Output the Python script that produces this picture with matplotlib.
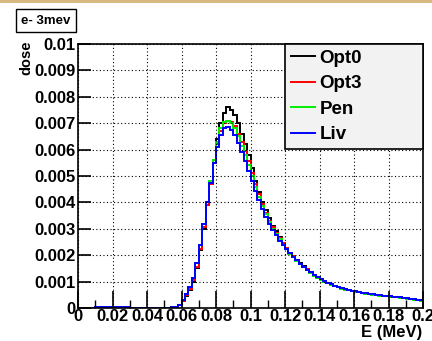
import numpy as np
import matplotlib
matplotlib.use("Agg")
import matplotlib.pyplot as plt
from matplotlib.patches import Rectangle

plt.rcParams['font.family'] = ['Liberation Sans', 'DejaVu Sans']
plt.rcParams['font.weight'] = 'bold'

# Histogram: 100 bins from 0 to 0.2 MeV, values in units of 1e-4
e_min, e_max, n_bins = 0.0, 0.2, 100
scale = 1e-4

opt0 = [0, 0, 0, 0, 0,
        0.2, 0.3, 0.2, 0.4, 0.2, 0.3, 0.2, 0.3, 0.2, 0.2,
        0.1, 0.1, 0.1, 0.1, 0.1, 0.1, 0.1, 0.1, 0.1, 0.1, 0.1, 0.1, 0.2,
        0.3, 1.0, 2.5, 4.5, 7, 10, 15, 22, 30, 39, 47, 56,
        64, 70, 74, 76, 75, 73, 70, 66, 62, 58,
        53, 48, 44, 40, 37, 34, 31, 29, 27, 24.5,
        22.5, 21, 19.5, 18.3, 17, 15.8, 14.6, 13.5, 12.6, 11.8,
        11.0, 10.3, 9.6, 9.0, 8.5, 8.0, 7.6, 7.2, 6.9, 6.6,
        6.3, 6.0, 5.8, 5.6, 5.4, 5.2, 5.0, 4.9, 4.7, 4.6,
        4.4, 4.3, 4.2, 4.0, 3.9, 3.7, 3.5, 3.3, 3.1, 2.9]

opt3 = [0, 0, 0, 0, 0,
        0.3, 0.2, 0.4, 0.2, 0.3, 0.2, 0.4, 0.3, 0.2, 0.3,
        0.1, 0.1, 0.1, 0.1, 0.1, 0.1, 0.1, 0.1, 0.1, 0.1, 0.1, 0.1, 0.2,
        0.3, 1.1, 2.7, 4.8, 7.3, 10.5, 15.5, 22.5, 30.5, 39, 47, 55,
        62, 67, 70, 71, 70.5, 69, 66, 63, 59.5, 55.5,
        51, 47, 43, 39.5, 36, 33, 30.5, 28.5, 26.5, 24.5,
        22.8, 21, 19.8, 18.2, 16.8, 15.6, 14.6, 13.4, 12.4, 11.5,
        10.8, 10.1, 9.5, 8.9, 8.3, 7.9, 7.5, 7.1, 6.8, 6.5,
        6.2, 6.0, 5.7, 5.5, 5.3, 5.1, 5.0, 4.8, 4.7, 4.5,
        4.4, 4.2, 4.1, 4.0, 3.8, 3.6, 3.4, 3.2, 3.0, 2.8]

pen = [0, 0, 0, 0, 0,
       0.2, 0.3, 0.3, 0.2, 0.4, 0.3, 0.2, 0.4, 0.3, 0.2,
       0.1, 0.1, 0.1, 0.1, 0.1, 0.1, 0.1, 0.1, 0.1, 0.1, 0.1, 0.1, 0.2,
       0.4, 1.3, 3.0, 5.2, 8, 11.5, 17, 24, 32, 40, 48, 56,
       63, 68, 70.5, 71, 70, 68, 65, 61.5, 58, 54,
       50, 46, 42, 38.5, 35.5, 32.5, 30, 28, 26, 24,
       22.2, 20.6, 19.2, 17.9, 16.6, 15.4, 14.3, 13.2, 12.3, 11.4,
       10.7, 10.0, 9.3, 8.8, 8.2, 7.8, 7.3, 7.0, 6.7, 6.4,
       6.1, 5.9, 5.6, 5.4, 5.2, 5.0, 4.9, 4.7, 4.5, 4.4,
       4.3, 4.1, 4.0, 3.9, 3.7, 3.5, 3.3, 3.1, 2.9, 2.7]

liv = [0, 0, 0, 0, 0,
       0.2, 0.2, 0.3, 0.2, 0.2, 0.3, 0.2, 0.2, 0.3, 0.2,
       0.1, 0.1, 0.1, 0.1, 0.1, 0.1, 0.1, 0.1, 0.1, 0.1, 0.1, 0.1, 0.2,
       0.4, 1.3, 3.1, 5.3, 8, 11.5, 17, 24, 32, 40, 47.5, 55,
       61, 65.5, 68, 68.6, 67.5, 65.5, 62.5, 59, 55.5, 52,
       48, 44.5, 41, 37.5, 34.5, 32, 29.5, 27.5, 25.5, 23.8,
       22.2, 20.7, 19.3, 18.0, 16.8, 15.6, 14.5, 13.5, 12.5, 11.7,
       10.9, 10.2, 9.6, 9.0, 8.5, 8.0, 7.6, 7.2, 6.9, 6.6,
       6.3, 6.0, 5.8, 5.6, 5.4, 5.2, 5.0, 4.9, 4.7, 4.6,
       4.5, 4.3, 4.2, 4.1, 3.9, 3.7, 3.5, 3.3, 3.1, 2.9]

series_names = ["Opt0", "Opt3", "Pen", "Liv"]
series_values = [opt0, opt3, pen, liv]
series_colors = ["#000000", "#ff0000", "#00ee00", "#0000ff"]

x_ticks = [0, 0.02, 0.04, 0.06, 0.08, 0.1, 0.12, 0.14, 0.16, 0.18, 0.2]
x_tick_labels = ["0", "0.02", "0.04", "0.06", "0.08", "0.1", "0.12", "0.14", "0.16", "0.18", "0.2"]
y_ticks = [0, 0.001, 0.002, 0.003, 0.004, 0.005, 0.006, 0.007, 0.008, 0.009, 0.01]
y_tick_labels = ["0", "0.001", "0.002", "0.003", "0.004", "0.005", "0.006", "0.007", "0.008", "0.009", "0.01"]

fig = plt.figure(figsize=(4.32, 3.41), dpi=100)
fig.patches.append(Rectangle((0, 1 - 3 / 341), 1, 3 / 341, transform=fig.transFigure,
                             facecolor="#d9b982", edgecolor="none"))
ax = fig.add_axes([78 / 432, 1 - 308 / 341, 345 / 432, 264 / 341])

edges = np.linspace(e_min, e_max, n_bins + 1)
for name, vals, col in zip(series_names, series_values, series_colors):
    ax.stairs(np.array(vals) * scale, edges, color=col, lw=1.4, label=name)

ax.set_xlim(0, 0.2)
ax.set_ylim(0, 0.01)
ax.set_xticks(x_ticks)
ax.set_xticklabels(x_tick_labels)
ax.set_xticks(np.arange(0.01, 0.2, 0.02), minor=True)
ax.set_yticks(y_ticks)
ax.set_yticklabels(y_tick_labels)
ax.tick_params(axis='x', which='major', direction='in', length=12, width=1.2, labelsize=12, pad=1)
ax.tick_params(axis='x', which='minor', direction='in', length=6, width=1.0)
ax.tick_params(axis='y', which='major', direction='in', length=9, width=1.2, labelsize=12, pad=2)
for lab in ax.get_xticklabels() + ax.get_yticklabels():
    lab.set_fontweight('bold')
for s in ax.spines.values():
    s.set_linewidth(1.2)
ax.grid(True, which='major', color='black', linestyle=(0, (1, 2.2)), linewidth=0.8)

fig.text(422 / 432, 1 - 332 / 341, "E (MeV)", ha='right', va='center', fontsize=12, fontweight='bold')
fig.text(26 / 432, 1 - 58 / 341, "dose", ha='center', va='center', rotation=90, fontsize=10.5, fontweight='bold')
fig.text(46 / 432, 1 - 20.5 / 341, "e- 3mev", ha='center', va='center', fontsize=9.5, fontweight='bold',
         bbox=dict(boxstyle='square,pad=0.4', facecolor='white', edgecolor='black', linewidth=1.0))

leg = ax.legend(loc='upper right', bbox_to_anchor=(207 / 345, 160 / 264, 138 / 345, 104 / 264),
                mode='expand', borderaxespad=0, fancybox=False, edgecolor='black', facecolor='#f2f2f2',
                framealpha=1, prop={'weight': 'bold', 'size': 13.5}, handlelength=1.3,
                handletextpad=0.25, labelspacing=0.45, borderpad=0.3)
leg.get_frame().set_linewidth(1.2)

fig.savefig("out.png", dpi=100)
